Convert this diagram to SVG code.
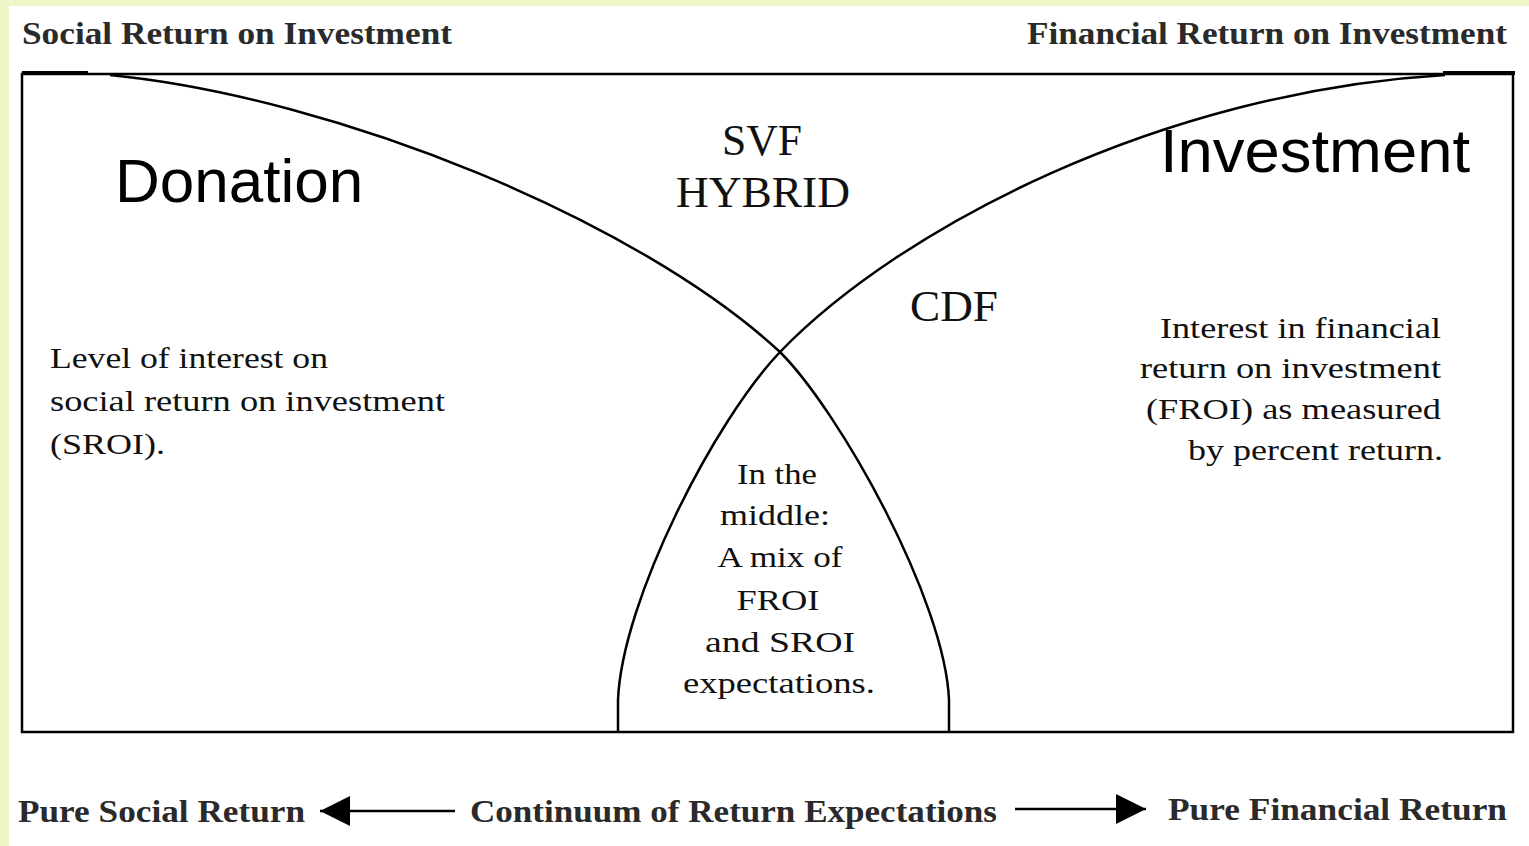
<svg xmlns="http://www.w3.org/2000/svg" width="1529" height="846" viewBox="0 0 1529 846">
<style>
.hdr{font-family:"Liberation Serif",serif;font-weight:bold;font-size:32px;fill:#2a2a2a}
.big{font-family:"Liberation Sans",Arial,sans-serif;font-size:62px;fill:#000}
.mono{font-family:"Liberation Serif","Times New Roman",serif;font-size:45px;fill:#111}
.par{font-family:"Liberation Serif",serif;font-size:30px;fill:#111}
.line{fill:none;stroke:#000;stroke-width:2.5}
.conn{stroke:#000;stroke-width:2.5;fill:none}
</style>
<defs>
<marker id="ah" viewBox="0 0 10 10" refX="10" refY="5" markerWidth="32" markerHeight="30" markerUnits="userSpaceOnUse" orient="auto">
<path d="M0,0 L10,5 L0,10 Z" fill="#000"/>
</marker>
</defs>
<rect x="0" y="0" width="1529" height="846" fill="#fff"/>
<rect x="0" y="0" width="1529" height="6" fill="#eef5c9"/>
<rect x="0" y="0" width="9" height="846" fill="#eef5c9"/>

<g id="frame">
<path class="line" d="M22,74 L1513,74 L1513,732 L22,732 Z"/>
<rect x="22" y="71" width="66" height="4" fill="#000"/>
<rect x="1443" y="71" width="72" height="4" fill="#000"/>
</g>

<g id="curves">
<path class="line" d="M110,75 C340,98 640,222 780,352 C840,412 945,600 949,700 L949,732"/>
<path class="line" d="M1445,75 C1160,92 900,228 780,352 C715,420 622,600 618,700 L618,732"/>
</g>

<g id="header-social"><text class="hdr" x="22" y="44" textLength="430" lengthAdjust="spacingAndGlyphs">Social Return on Investment</text></g>
<g id="header-financial"><text class="hdr" x="1027" y="44" textLength="480" lengthAdjust="spacingAndGlyphs">Financial Return on Investment</text></g>

<g id="donation"><text class="big" x="115" y="202">Donation</text></g>
<g id="investment"><text class="big" x="1160" y="172" textLength="310" lengthAdjust="spacingAndGlyphs">Investment</text></g>

<g id="svf-hybrid">
<text class="mono" x="762" y="155" text-anchor="middle" textLength="80" lengthAdjust="spacingAndGlyphs">SVF</text>
<text class="mono" x="763" y="207" text-anchor="middle" textLength="174" lengthAdjust="spacingAndGlyphs">HYBRID</text>
</g>
<g id="cdf"><text class="mono" x="954" y="321" text-anchor="middle" textLength="88" lengthAdjust="spacingAndGlyphs">CDF</text></g>

<g id="sroi-text">
<text class="par" x="50" y="368" textLength="278" lengthAdjust="spacingAndGlyphs">Level of interest on</text>
<text class="par" x="50" y="411" textLength="395" lengthAdjust="spacingAndGlyphs">social return on investment</text>
<text class="par" x="50" y="454" textLength="115" lengthAdjust="spacingAndGlyphs">(SROI).</text>
</g>

<g id="froi-text">
<text class="par" x="1441" y="338" text-anchor="end" textLength="281" lengthAdjust="spacingAndGlyphs">Interest in financial</text>
<text class="par" x="1441" y="378" text-anchor="end" textLength="301" lengthAdjust="spacingAndGlyphs">return on investment</text>
<text class="par" x="1441" y="419" text-anchor="end" textLength="295" lengthAdjust="spacingAndGlyphs">(FROI) as measured</text>
<text class="par" x="1443" y="460" text-anchor="end" textLength="255" lengthAdjust="spacingAndGlyphs">by percent return.</text>
</g>

<g id="middle-text">
<text class="par" x="777" y="484" text-anchor="middle" textLength="80" lengthAdjust="spacingAndGlyphs">In the</text>
<text class="par" x="775" y="525" text-anchor="middle" textLength="110" lengthAdjust="spacingAndGlyphs">middle:</text>
<text class="par" x="780" y="567" text-anchor="middle" textLength="125" lengthAdjust="spacingAndGlyphs">A mix of</text>
<text class="par" x="778" y="610" text-anchor="middle" textLength="83" lengthAdjust="spacingAndGlyphs">FROI</text>
<text class="par" x="780" y="652" text-anchor="middle" textLength="150" lengthAdjust="spacingAndGlyphs">and SROI</text>
<text class="par" x="779" y="693" text-anchor="middle" textLength="192" lengthAdjust="spacingAndGlyphs">expectations.</text>
</g>

<g id="pure-social"><text class="hdr" x="18" y="822" textLength="287" lengthAdjust="spacingAndGlyphs">Pure Social Return</text></g>
<g id="continuum"><text class="hdr" x="470" y="822" textLength="527" lengthAdjust="spacingAndGlyphs">Continuum of Return Expectations</text></g>
<g id="pure-financial"><text class="hdr" x="1168" y="820" textLength="339" lengthAdjust="spacingAndGlyphs">Pure Financial Return</text></g>

<g id="connectors">
<line class="conn" x1="455" y1="811" x2="320" y2="811" marker-end="url(#ah)"/>
<line class="conn" x1="1015" y1="809" x2="1146" y2="809" marker-end="url(#ah)"/>
</g>
</svg>
